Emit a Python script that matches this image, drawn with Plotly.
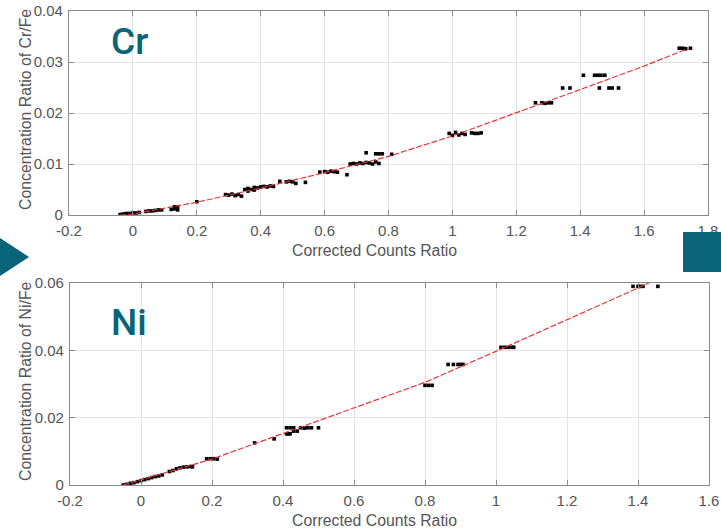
import plotly.graph_objects as go

W, H = 721, 529

# ---------------- data: Cr ----------------
cr_x = [-0.04, -0.03, -0.02, -0.01, 0.0, 0.01, 0.02,
        0.04, 0.05, 0.06, 0.07, 0.08, 0.09,
        0.12, 0.13, 0.13, 0.14, 0.14,
        0.20,
        0.29, 0.30, 0.31, 0.32, 0.33, 0.34,
        0.35, 0.36, 0.37, 0.38, 0.39, 0.40, 0.41, 0.42, 0.43, 0.44, 0.36, 0.38,
        0.46, 0.48, 0.49, 0.50, 0.51, 0.54,
        0.585, 0.60, 0.61, 0.62, 0.63, 0.64, 0.67,
        0.68, 0.69, 0.70, 0.71, 0.72, 0.73, 0.74, 0.75, 0.76, 0.77,
        0.73, 0.76, 0.77, 0.78, 0.81,
        0.99, 1.00, 1.01, 1.02, 1.03, 1.04, 1.06, 1.07, 1.08, 1.09,
        1.26, 1.28, 1.29, 1.30, 1.31,
        1.345, 1.368,
        1.41, 1.445, 1.455, 1.465, 1.477,
        1.46, 1.49, 1.50, 1.52,
        1.71, 1.72, 1.73, 1.745]
cr_y = [0.0001, 0.0002, 0.0003, 0.0003, 0.0004, 0.0004, 0.0005,
        0.0007, 0.0008, 0.0008, 0.0009, 0.0010, 0.0010,
        0.0011, 0.0016, 0.0012, 0.0016, 0.0010,
        0.0026,
        0.0040, 0.0039, 0.0041, 0.0038, 0.0040, 0.0037,
        0.0050, 0.0052, 0.0050, 0.0054, 0.0053, 0.0055, 0.0056, 0.0055, 0.0057, 0.0056, 0.0047, 0.0049,
        0.0066, 0.0065, 0.0066, 0.0065, 0.0062, 0.0064,
        0.0084, 0.0085, 0.0084, 0.0086, 0.0085, 0.0084, 0.0079,
        0.0100, 0.0101, 0.0100, 0.0102, 0.0101, 0.0103, 0.0102, 0.0100, 0.0104, 0.0101,
        0.0122, 0.0120, 0.0120, 0.0120, 0.0119,
        0.0160, 0.0156, 0.0162, 0.0157, 0.0160, 0.0158, 0.0161, 0.0160, 0.0160, 0.0161,
        0.0220, 0.0220, 0.0219, 0.0220, 0.0220,
        0.0249, 0.0249,
        0.0274, 0.0274, 0.0274, 0.0274, 0.0274,
        0.0249, 0.0249, 0.0249, 0.0249,
        0.0327, 0.0327, 0.0326, 0.0327]
cr_fit_x = [-0.04, 0.0, 0.2, 0.4, 0.6, 0.8, 1.0, 1.2, 1.4, 1.6, 1.74]
cr_fit_y = [0.0, 0.0002, 0.0025, 0.0053, 0.0083, 0.0115, 0.0155, 0.0200, 0.0246, 0.0292, 0.0327]

# ---------------- data: Ni ----------------
ni_x = [-0.05, -0.04, -0.03, -0.02, -0.01, 0.0, 0.01, 0.02, 0.03, 0.04, 0.05, 0.06,
        0.08, 0.09, 0.10, 0.11, 0.12, 0.13, 0.14, 0.145,
        0.185, 0.195, 0.205, 0.215,
        0.32, 0.375,
        0.41, 0.415, 0.42, 0.43, 0.44,
        0.41, 0.42, 0.43, 0.45, 0.46, 0.47, 0.48, 0.50,
        0.80, 0.81, 0.82,
        0.865, 0.88, 0.893, 0.90, 0.907,
        1.014, 1.025, 1.035, 1.045, 1.05,
        1.386, 1.40, 1.405, 1.414, 1.456]
ni_y = [0.0000, 0.0002, 0.0005, 0.0007, 0.0010, 0.0013, 0.0016, 0.0019, 0.0022, 0.0025, 0.0027, 0.0030,
        0.0040, 0.0043, 0.0048, 0.0051, 0.0053, 0.0054, 0.0055, 0.0054,
        0.0078, 0.0078, 0.0078, 0.0077,
        0.0125, 0.0137,
        0.0152, 0.0152, 0.0152, 0.0160, 0.0160,
        0.0170, 0.0170, 0.0170, 0.0170, 0.0169, 0.0170, 0.0170, 0.0170,
        0.0296, 0.0296, 0.0296,
        0.0358, 0.0358, 0.0358, 0.0358, 0.0358,
        0.0409, 0.0409, 0.0409, 0.0409, 0.0409,
        0.0590, 0.0590, 0.0590, 0.0590, 0.0590]
ni_fit_x = [-0.05, 0.0, 0.2, 0.4, 0.6, 0.8, 1.0, 1.2, 1.4, 1.45]
ni_fit_y = [0.0, 0.0015, 0.0077, 0.0153, 0.0228, 0.0305, 0.0397, 0.0490, 0.0585, 0.0610]

# ---------------- tick labels ----------------
cr_xticks = [-0.2, 0, 0.2, 0.4, 0.6, 0.8, 1.0, 1.2, 1.4, 1.6, 1.8]
cr_xticktext = ["-0.2", "0", "0.2", "0.4", "0.6", "0.8", "1", "1.2", "1.4", "1.6", "1.8"]
cr_yticks = [0, 0.01, 0.02, 0.03, 0.04]
cr_yticktext = ["0", "0.01", "0.02", "0.03", "0.04"]
ni_xticks = [-0.2, 0, 0.2, 0.4, 0.6, 0.8, 1.0, 1.2, 1.4, 1.6]
ni_xticktext = ["-0.2", "0", "0.2", "0.4", "0.6", "0.8", "1", "1.2", "1.4", "1.6"]
ni_yticks = [0, 0.02, 0.04, 0.06]
ni_yticktext = ["0", "0.02", "0.04", "0.06"]

TEAL = "#0a6479"
FONT = "Liberation Sans, Arial, sans-serif"
TICKC = "#555555"

fig = go.Figure()

line_style = dict(color="#e4363a", width=1.2, dash="6px,2px")
mk = dict(color="black", size=3.6, symbol="square")

fig.add_trace(go.Scatter(x=cr_x, y=cr_y, mode="markers", marker=mk, xaxis="x", yaxis="y", showlegend=False))
fig.add_trace(go.Scatter(x=cr_fit_x, y=cr_fit_y, mode="lines", line=line_style, xaxis="x", yaxis="y", showlegend=False))
fig.add_trace(go.Scatter(x=ni_x, y=ni_y, mode="markers", marker=mk, xaxis="x2", yaxis="y2", showlegend=False))
fig.add_trace(go.Scatter(x=ni_fit_x, y=ni_fit_y, mode="lines", line=line_style, xaxis="x2", yaxis="y2", showlegend=False))


def ax(domain, rng, tv, tt, anchor):
    return dict(domain=domain, range=rng, tickvals=tv, ticktext=tt, anchor=anchor,
                automargin=False,
                showgrid=True, gridcolor="#e3e3e3", gridwidth=1,
                zeroline=False, showline=True, linecolor="#8a8a8a", linewidth=1.3,
                mirror="ticks", ticks="inside", ticklen=5, tickcolor="#8a8a8a",
                tickfont=dict(family=FONT, size=15, color=TICKC),
                ticklabelstandoff=2,
                fixedrange=True)


fig.update_layout(
    template="none",
    width=W, height=H, margin=dict(l=0, r=0, t=0, b=0, pad=0), autosize=False,
    paper_bgcolor="white", plot_bgcolor="white",
    xaxis=ax([69 / W, 708 / W], [-0.2, 1.8], cr_xticks, cr_xticktext, "y"),
    yaxis=ax([1 - 215 / H, 1 - 11 / H], [0, 0.04], cr_yticks, cr_yticktext, "x"),
    xaxis2=ax([70 / W, 709 / W], [-0.2, 1.6], ni_xticks, ni_xticktext, "y2"),
    yaxis2=ax([1 - 485 / H, 1 - 283 / H], [0, 0.06], ni_yticks, ni_yticktext, "x2"),
)

ann = []
def txt(x, y, s, size, color, angle=0, family=FONT, weight="normal"):
    ann.append(dict(x=x / W, y=1 - y / H, xref="paper", yref="paper", text=s, showarrow=False,
                    textangle=angle, xanchor="center", yanchor="middle",
                    font=dict(family=family, size=size, color=color, weight=weight)))

txt(129, 42, "Cr", 37, TEAL, family="Roboto, Liberation Sans, sans-serif", weight=500)
txt(129, 323, "Ni", 37, TEAL, family="Roboto, Liberation Sans, sans-serif", weight=500)
txt(25, 110, "Concentration Ratio of Cr/Fe", 15.8, TICKC, -90)
txt(25, 381, "Concentration Ratio of Ni/Fe", 15.8, TICKC, -90)
txt(374, 250, "Corrected Counts Ratio", 15.8, TICKC)
txt(374, 520, "Corrected Counts Ratio", 15.8, TICKC)
fig.update_layout(annotations=ann)

def px(x, y):
    return f"{x / W:.5f}", f"{1 - y / H:.5f}"

tri = [px(0, 238), px(29, 257), px(0, 276)]
fig.add_shape(type="path", xref="paper", yref="paper",
              path=f"M {tri[0][0]} {tri[0][1]} L {tri[1][0]} {tri[1][1]} L {tri[2][0]} {tri[2][1]} Z",
              fillcolor=TEAL, line=dict(width=0))
fig.add_shape(type="rect", xref="paper", yref="paper",
              x0=683 / W, x1=1, y0=1 - 272 / H, y1=1 - 232 / H,
              fillcolor=TEAL, line=dict(width=0))

fig.write_html("out.html", config={"displayModeBar": False},
               post_script="document.body.style.margin='0';document.body.style.overflow='hidden';")
